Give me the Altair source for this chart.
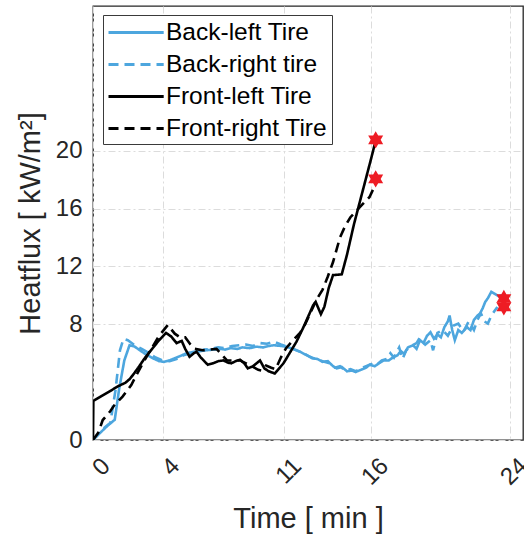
import altair as alt
import pandas as pd

# ---------------- data ----------------
series_names = ["Back-left Tire", "Back-right tire", "Front-left Tire", "Front-right Tire"]

bl_t = [0, 0.5, 0.85, 1.25, 1.5, 1.8, 2.1, 2.4, 2.7, 3.0, 3.45, 3.8, 4.1, 4.4, 4.6, 5.0, 5.4, 5.8,
        6.2, 6.5, 6.9, 7.3, 7.6, 7.9, 8.3, 8.6, 9.0, 9.4, 9.8, 10.1, 10.4, 10.8, 11.1, 11.5, 11.9,
        12.3, 12.6, 12.9, 13.2, 13.5, 13.8, 14.0, 14.3, 14.6, 14.9, 15.1, 15.4, 15.7, 15.9, 16.2,
        16.5, 16.7, 17.0, 17.3, 17.5, 17.7, 17.9, 18.1, 18.4, 18.6, 18.8, 19.0, 19.2, 19.4, 19.6,
        19.8, 20.0, 20.2, 20.4, 20.5, 20.65, 20.8, 21.0, 21.2, 21.5, 21.7, 21.9, 22.1, 22.25, 22.4,
        22.55, 22.7, 22.9, 23.1, 23.3, 23.6]
bl_v = [0, 0.6, 1.0, 1.4, 3.5, 5.5, 6.55, 6.45, 6.2, 5.95, 5.65, 5.45, 5.4, 5.5, 5.6, 5.8, 6.0, 6.1,
        6.15, 6.2, 6.25, 6.3, 6.25, 6.35, 6.3, 6.4, 6.35, 6.45, 6.4, 6.5, 6.55, 6.5, 6.45, 6.3, 6.1,
        5.85, 5.65, 5.6, 5.4, 5.45, 5.1, 4.95, 5.05, 4.75, 4.8, 4.7, 4.85, 5.0, 5.2, 5.1,
        5.35, 5.5, 5.5, 5.75, 5.85, 6.15, 5.95, 6.4, 6.55, 6.3, 6.9, 6.7, 7.2, 7.45, 7.0,
        7.3, 7.1, 7.8, 8.2, 8.6, 7.6, 6.9, 7.6, 7.4, 7.8, 7.6, 8.3, 8.6, 8.75, 9.1,
        9.55, 9.8, 10.25, 10.1, 9.95, 10.05]

br_t = [0, 0.6, 1.0, 1.3, 1.55, 1.75, 2.0, 2.4, 2.8, 3.15, 3.6, 4.0, 4.4, 4.8, 5.2, 5.6, 6.0, 6.4,
        6.8, 7.2, 7.6, 8.0, 8.4, 8.8, 9.2, 9.6, 10.0, 10.4, 10.8, 11.2, 11.6, 12.0, 12.4, 12.8, 13.2,
        13.6, 13.9, 14.2, 14.5, 14.8, 15.1, 15.4, 15.7, 16.0, 16.3, 16.6, 16.9, 17.1, 17.3, 17.6,
        17.8, 18.0, 18.3, 18.6, 18.8, 19.1, 19.4, 19.55, 19.8, 20.1, 20.4, 20.7, 21.0, 21.3, 21.6,
        21.9, 22.1, 22.3, 22.5, 22.7, 22.9, 23.1, 23.25]
br_v = [0, 0.8, 1.2, 3.5, 6.2, 7.0, 6.9, 6.55, 6.3, 6.05, 5.7, 5.5, 5.45, 5.6, 5.85, 6.0, 6.1, 6.25,
        6.3, 6.4, 6.35, 6.5, 6.55, 6.6, 6.5, 6.7, 6.65, 6.8, 6.6, 6.45, 6.25, 6.05, 5.8, 5.6, 5.45,
        5.3, 5.0, 5.1, 4.8, 4.9, 4.75, 4.95, 5.1, 5.25, 5.2, 5.5, 5.6, 6.0, 5.7, 6.4,
        5.6, 6.2, 6.5, 6.7, 7.1, 6.6, 6.9, 6.2, 7.4, 7.6, 7.2, 7.9, 8.05, 7.5, 8.2,
        7.6, 8.3, 8.75, 8.2, 8.05, 8.6, 8.95, 9.2]

fl_t = [0, 0.02, 0.5, 1.0, 1.5, 1.85, 2.1, 2.3, 2.6, 3.0, 3.4, 3.8, 4.2, 4.5, 4.8, 5.1, 5.3, 5.55,
        5.8, 5.95, 6.2, 6.6, 6.9, 7.2, 7.5, 7.75, 7.95, 8.2, 8.45, 8.7, 8.9, 9.2, 9.6, 9.85, 10.1,
        10.45, 10.7, 10.95, 11.3, 11.7, 12.1, 12.45, 12.65, 12.8, 13.1, 13.3, 13.55, 13.8, 14.3,
        14.6, 15.0, 15.5, 16.0, 16.25]
fl_v = [0, 2.7, 3.05, 3.4, 3.75, 3.95, 4.2, 4.5, 5.0, 5.7, 6.3, 6.9, 7.4, 7.15, 6.7, 6.85, 6.3, 5.75,
        6.0, 6.1, 5.7, 5.2, 5.3, 5.45, 5.5, 5.35, 5.3, 5.45, 5.55, 5.3, 4.95, 5.1, 5.5, 4.95, 4.75,
        4.6, 4.95, 5.3, 6.0, 6.8, 7.8, 8.75, 9.3, 9.55, 8.7, 9.2, 10.5, 11.4, 11.45,
        12.8, 14.9, 17.2, 19.5, 20.7]

fr_t = [0, 0.3, 0.56, 1.0, 1.25, 1.7, 2.2, 2.5, 2.86, 3.3, 3.8, 4.3, 4.7, 5.0, 5.3, 5.6, 5.85, 6.3,
        6.7, 7.1, 7.4, 7.7, 8.1, 8.45, 8.8, 9.2, 9.5, 9.7, 9.95, 10.25, 10.5, 10.8, 11.1, 11.5, 11.9,
        12.2, 12.5, 12.85, 13.2, 13.5, 13.8, 14.2, 14.5, 14.8, 15.15, 15.5, 15.9, 16.25]
fr_v = [0, 0.5, 1.38, 2.0, 2.45, 3.0, 3.8, 4.5, 5.3, 6.2, 7.2, 7.95, 7.35, 7.1, 7.1, 6.6, 6.3, 6.2,
        6.25, 6.3, 5.9, 5.5, 5.5, 5.5, 5.3, 5.05, 4.85, 4.8, 5.15, 5.0, 4.9, 5.7, 6.35, 6.9, 7.4,
        8.0, 8.8, 9.7, 10.4, 11.3, 12.3, 14.0, 14.8, 15.4, 15.85, 16.3, 16.8, 17.7]

# end-point markers
marker_t = [16.25, 16.25, 23.62, 23.62]
marker_v = [20.75, 18.05, 9.78, 9.2]

x_ticks = [0, 4, 11, 16, 24]
y_ticks = [0, 8, 12, 16, 20]

# ---------------- build table ----------------
frames = []
for name, t, v in zip(series_names, [bl_t, br_t, fl_t, fr_t], [bl_v, br_v, fl_v, fr_v]):
    frames.append(pd.DataFrame({"time": t, "heat": v, "series": name}))
lines_df = pd.concat(frames, ignore_index=True)
markers_df = pd.DataFrame({"time": marker_t, "heat": marker_v})

BLUE = "#4da6de"
TXT = "#262626"
FONT = "Liberation Sans"

xscale = alt.Scale(domain=[0, 24.72], nice=False, zero=False)
yscale = alt.Scale(domain=[0, 30], nice=False)

xaxis = alt.Axis(values=x_ticks, title="Time [ min ]", labelAngle=315, labelAlign="right",
                 labelBaseline="middle", labelOffset=13, labelPadding=22, ticks=False,
                 domain=False, titleFontSize=29, titlePadding=15)
yaxis = alt.Axis(values=y_ticks, title="Heatflux  [ kW/m²]", ticks=False, domain=False,
                 labelPadding=11, titleFontSize=29, titlePadding=10)

hexagram = ("M0,-1L0.289,-0.5L0.866,-0.5L0.577,0L0.866,0.5L0.289,0.5L0,1L-0.289,0.5"
            "L-0.866,0.5L-0.577,0L-0.866,-0.5L-0.289,-0.5Z")

legend = alt.Legend(title=None, orient="none", legendX=10, legendY=9)

lines = alt.Chart(lines_df).mark_line(strokeWidth=2.6, clip=True).encode(
    x=alt.X("time:Q", scale=xscale, axis=xaxis),
    y=alt.Y("heat:Q", scale=yscale, axis=yaxis),
    color=alt.Color("series:N", scale=alt.Scale(domain=series_names,
                                                range=[BLUE, BLUE, "black", "black"]),
                    legend=legend),
    strokeDash=alt.StrokeDash("series:N", scale=alt.Scale(domain=series_names,
                                                          range=[[1, 0], [10, 6], [1, 0], [10, 6]]),
                              legend=legend),
)

stars = alt.Chart(markers_df).mark_point(shape=hexagram, size=300, filled=True,
                                         color="#ee1c24", opacity=1).encode(
    x=alt.X("time:Q", scale=xscale),
    y=alt.Y("heat:Q", scale=yscale),
)

chart = alt.layer(lines, stars).properties(
    width=430, height=434,
    padding={"left": 93, "top": 6, "right": 1, "bottom": 98},
    autosize="none",
).configure(font=FONT).configure_view(
    stroke=TXT, strokeWidth=1.3
).configure_axis(
    labelFont=FONT, titleFont=FONT, labelFontSize=24, labelColor=TXT, titleColor=TXT,
    titleFontWeight="normal", gridColor="#dcdcdc", gridDash=[7, 3, 2, 3], gridWidth=1,
).configure_legend(
    labelFont=FONT, labelFontSize=24.5, labelColor="black", symbolType="M-1,0H3.6",
    symbolSize=576, symbolStrokeWidth=3, labelOffset=32, padding=4, rowPadding=7,
    fillColor="white", strokeColor="#3a3a3a", cornerRadius=0, labelLimit=400,
)

chart.save("out.html", embed_options={"renderer": "svg", "actions": False})
